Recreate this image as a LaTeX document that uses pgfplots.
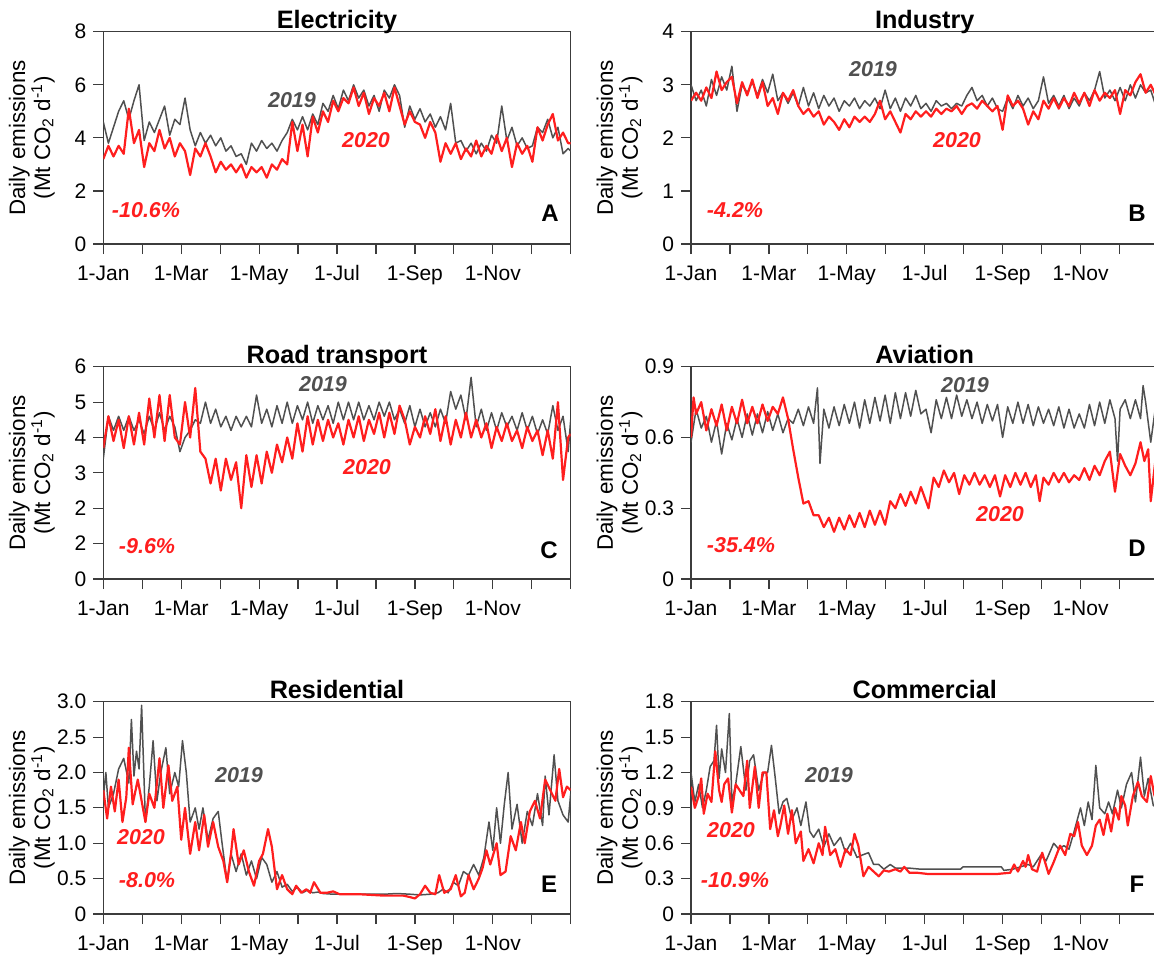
\documentclass[border=0pt]{standalone}
\usepackage{fontspec}
\setmainfont{Liberation Sans}
\usepackage{pgfplots}
\pgfplotsset{compat=1.18}
\definecolor{gray19}{RGB}{80,80,80}
\definecolor{red20}{RGB}{255,30,30}
\definecolor{axcol}{RGB}{60,60,60}
\pgfplotsset{panel/.style={
  scale only axis, width=233.7pt, height=106.15pt,
  xmin=0, xmax=366, ymin=0,
  xtick={0,30.5,61,91.5,122,152.5,183,213.5,244,274.5,305,335.5,366},
  xticklabels={1-Jan,,1-Mar,,1-May,,1-Jul,,1-Sep,,1-Nov,,},
  tick align=outside, major tick length=5pt, tick pos=left,
  axis line style={axcol, line width=0.6pt},
  every tick/.style={axcol, line width=0.6pt},
  tick label style={font=\fontsize{10.5}{12}\selectfont},
  xticklabel style={yshift=-2pt, text height=7.6pt, text depth=2.2pt},
  title style={font=\fontsize{12.6}{14}\selectfont\bfseries, at={(0.5,1)}, anchor=base, yshift=-4.5pt},
  ylabel={Daily emissions\\(Mt CO\textsubscript{2} d\textsuperscript{-1})},
  ylabel style={font=\fontsize{11.2}{12.5}\selectfont, align=center, at={(axis description cs:-0.153,0.5)}, anchor=center},
  every axis plot/.append style={no markers, line join=round},
  anchor=south west,
},
y19/.style={color=gray19, line width=0.75pt},
y20/.style={color=red20, line width=1.1pt}}
\begin{document}
\begin{tikzpicture}
\path[use as bounding box] (0,0) rectangle (577pt,-480pt);
% ---------------- A Electricity
\begin{axis}[panel, at={(51.65pt,-122pt)}, title={Electricity}, ymax=8, ytick={0,2,4,6,8}, yticklabels={0,2,4,6,8}]
\addplot[y19] coordinates {(0,4.6)(4,3.8)(8,4.4)(12,5.0)(16,5.4)(20,4.7)(24,5.4)(28,6.0)(32,3.9)(36,4.6)(40,4.2)(44,4.7)(48,5.2)(52,4.1)(56,4.7)(60,4.5)(64,5.5)(68,4.3)(72,3.7)(76,4.2)(80,3.8)(84,4.1)(88,3.7)(92,4.0)(96,3.5)(100,3.7)(104,3.3)(108,3.4)(112,3.0)(116,3.8)(120,3.5)(124,3.9)(128,3.6)(132,3.8)(136,3.5)(140,3.9)(144,4.2)(148,4.7)(152,4.3)(156,4.8)(160,4.3)(164,4.9)(168,4.5)(172,5.3)(176,5.0)(180,5.6)(184,5.1)(188,5.8)(192,5.4)(196,6.0)(200,5.5)(204,5.8)(208,5.2)(212,5.6)(216,5.0)(220,5.8)(224,5.5)(228,6.0)(232,5.6)(236,4.4)(240,5.2)(244,4.7)(248,5.1)(252,4.6)(256,4.9)(260,4.4)(264,4.8)(268,4.3)(272,5.3)(276,3.8)(280,3.9)(284,3.5)(288,3.8)(292,3.4)(296,3.8)(300,3.5)(304,4.1)(308,3.8)(312,5.2)(316,3.9)(320,4.4)(324,3.7)(328,4.0)(332,3.6)(336,3.7)(340,4.4)(344,4.2)(348,4.7)(352,4.0)(356,4.4)(360,3.4)(364,3.6)(366,3.5)};
\addplot[y20] coordinates {(0,3.2)(4,3.7)(8,3.3)(12,3.7)(16,3.4)(20,5.1)(24,3.8)(28,4.3)(32,2.9)(36,3.8)(40,3.5)(44,4.3)(48,3.6)(52,4.0)(56,3.3)(60,3.8)(64,3.5)(68,2.6)(72,3.6)(76,3.3)(80,3.8)(84,3.3)(88,2.7)(92,3.1)(96,2.8)(100,3.0)(104,2.7)(108,3.0)(112,2.5)(116,2.9)(120,2.7)(124,2.9)(128,2.5)(132,3.0)(136,2.8)(140,3.2)(144,3.0)(148,4.6)(152,3.5)(156,4.5)(160,3.3)(164,4.8)(168,4.2)(172,5.0)(176,4.6)(180,5.4)(184,5.0)(188,5.5)(192,5.3)(196,5.9)(200,5.2)(204,5.7)(208,4.9)(212,5.5)(216,5.2)(220,5.7)(224,5.0)(228,5.9)(232,5.2)(236,4.5)(240,5.0)(244,4.6)(248,4.5)(252,4.0)(256,4.6)(260,4.2)(264,3.1)(268,3.8)(272,3.4)(276,3.8)(280,3.2)(284,3.6)(288,3.3)(292,3.9)(296,3.3)(300,3.7)(304,3.4)(308,4.1)(312,3.5)(316,4.0)(320,2.9)(324,3.8)(328,3.4)(332,3.7)(336,3.1)(340,4.4)(344,3.9)(348,4.5)(352,4.9)(356,3.9)(360,4.2)(364,3.8)(366,3.8)};
\end{axis}
% ---------------- B Industry
\begin{axis}[panel, at={(345.5pt,-122pt)}, title={Industry}, ymax=4, ytick={0,1,2,3,4}, yticklabels={0,1,2,3,4}]
\addplot[y19] coordinates {(0,3.0)(4,2.7)(8,2.9)(12,2.6)(16,3.1)(20,2.8)(24,3.15)(28,2.9)(32,3.35)(36,2.5)(40,3.0)(44,2.85)(48,3.05)(52,2.8)(56,3.1)(60,2.85)(64,3.2)(68,2.7)(72,2.85)(76,2.65)(80,2.85)(84,2.6)(88,2.95)(92,2.6)(96,2.85)(100,2.55)(104,2.8)(108,2.6)(112,2.75)(116,2.5)(120,2.7)(124,2.6)(128,2.75)(132,2.55)(136,2.7)(140,2.6)(144,2.75)(148,2.55)(152,2.9)(156,2.55)(160,2.75)(164,2.5)(168,2.75)(172,2.6)(176,2.8)(180,2.55)(184,2.65)(188,2.5)(192,2.7)(196,2.6)(200,2.65)(204,2.55)(208,2.65)(212,2.6)(216,2.8)(220,2.95)(224,2.7)(228,2.8)(232,2.6)(236,2.75)(240,2.55)(244,2.5)(248,2.75)(252,2.55)(256,2.8)(260,2.6)(264,2.75)(268,2.55)(272,2.7)(276,3.15)(280,2.65)(284,2.8)(288,2.6)(292,2.8)(296,2.55)(300,2.75)(304,2.6)(308,2.85)(312,2.7)(316,2.9)(320,3.25)(324,2.75)(328,2.9)(332,2.7)(336,2.95)(340,2.7)(344,3.0)(348,2.75)(352,3.0)(356,2.85)(360,2.9)(364,2.6)(366,2.65)};
\addplot[y20] coordinates {(0,2.7)(4,2.85)(8,2.7)(12,2.95)(16,2.75)(20,3.25)(24,2.9)(28,3.05)(32,3.15)(36,2.65)(40,3.05)(44,2.8)(48,3.1)(52,2.75)(56,3.05)(60,2.6)(64,2.75)(68,2.45)(72,2.85)(76,2.7)(80,2.9)(84,2.6)(88,2.45)(92,2.55)(96,2.4)(100,2.5)(104,2.25)(108,2.4)(112,2.3)(116,2.15)(120,2.35)(124,2.2)(128,2.4)(132,2.3)(136,2.4)(140,2.3)(144,2.45)(148,2.7)(152,2.35)(156,2.5)(160,2.3)(164,2.1)(168,2.45)(172,2.35)(176,2.5)(180,2.4)(184,2.5)(188,2.4)(192,2.55)(196,2.45)(200,2.55)(204,2.5)(208,2.6)(212,2.45)(216,2.6)(220,2.65)(224,2.55)(228,2.7)(232,2.6)(236,2.5)(240,2.6)(244,2.15)(248,2.8)(252,2.6)(256,2.7)(260,2.55)(264,2.25)(268,2.5)(272,2.35)(276,2.7)(280,2.55)(284,2.75)(288,2.55)(292,2.75)(296,2.6)(300,2.85)(304,2.65)(308,2.85)(312,2.6)(316,2.9)(320,2.7)(324,2.85)(328,2.75)(332,2.9)(336,2.45)(340,2.9)(344,2.8)(348,3.05)(352,3.2)(356,2.85)(360,3.0)(364,2.8)(366,2.75)};
\end{axis}
% ---------------- C Road transport
\begin{axis}[panel, at={(51.65pt,-289.5pt)}, title={Road transport}, ymax=6, ytick={0,1,2,3,4,5,6}, yticklabels={0,2,2,3,4,5,6}]
\addplot[y19] coordinates {(0,3.4)(4,4.6)(8,4.2)(12,4.6)(16,4.2)(20,4.6)(24,4.2)(28,4.5)(32,4.1)(36,4.6)(40,4.2)(44,4.7)(48,4.2)(52,4.6)(56,4.3)(60,3.6)(64,4.0)(68,4.2)(72,4.5)(76,4.4)(80,5.0)(84,4.4)(88,4.8)(92,4.3)(96,4.6)(100,4.2)(104,4.6)(108,4.3)(112,4.6)(116,4.3)(120,5.2)(124,4.4)(128,4.8)(132,4.3)(136,4.9)(140,4.4)(144,5.0)(148,4.4)(152,4.9)(156,4.5)(160,5.0)(164,4.4)(168,4.9)(172,4.5)(176,4.9)(180,4.4)(184,5.0)(188,4.5)(192,5.0)(196,4.5)(200,5.0)(204,4.5)(208,4.9)(212,4.5)(216,5.0)(220,4.6)(224,5.0)(228,4.5)(232,4.8)(236,4.4)(240,4.9)(244,4.3)(248,4.8)(252,4.3)(256,4.7)(260,4.3)(264,4.8)(268,4.4)(272,5.3)(276,4.8)(280,5.2)(284,4.5)(288,5.7)(292,4.3)(296,4.8)(300,4.2)(304,4.7)(308,4.2)(312,4.7)(316,4.3)(320,4.6)(324,4.2)(328,4.7)(332,4.2)(336,4.6)(340,4.1)(344,4.5)(348,4.1)(352,4.9)(356,4.2)(360,4.6)(364,3.6)(366,4.5)};
\addplot[y20] coordinates {(0,3.7)(4,4.6)(8,3.9)(12,4.5)(16,3.7)(20,4.6)(24,3.8)(28,4.7)(32,3.8)(36,5.1)(40,4.0)(44,5.2)(48,3.9)(52,5.2)(56,4.0)(60,3.8)(64,5.0)(68,4.0)(72,5.4)(76,3.6)(80,3.4)(84,2.7)(88,3.4)(92,2.5)(96,3.4)(100,2.8)(104,3.3)(108,2.0)(112,3.5)(116,2.6)(120,3.5)(124,2.7)(128,3.6)(132,3.0)(136,3.8)(140,3.3)(144,4.0)(148,3.4)(152,4.4)(156,3.6)(160,4.6)(164,3.8)(168,4.5)(172,3.9)(176,4.5)(180,4.0)(184,4.4)(188,3.8)(192,4.5)(196,4.0)(200,4.6)(204,3.9)(208,4.5)(212,4.1)(216,4.7)(220,4.0)(224,4.7)(228,4.1)(232,4.9)(236,4.5)(240,3.8)(244,4.3)(248,4.0)(252,4.6)(256,4.1)(260,4.8)(264,3.9)(268,4.6)(272,3.8)(276,4.5)(280,4.0)(284,4.7)(288,4.0)(292,4.5)(296,4.0)(300,4.4)(304,3.7)(308,4.3)(312,3.9)(316,4.4)(320,3.9)(324,4.2)(328,3.7)(332,4.3)(336,3.9)(340,4.2)(344,3.5)(348,4.2)(352,3.4)(356,5.0)(360,2.8)(364,4.0)(366,4.1)};
\end{axis}
% ---------------- D Aviation
\begin{axis}[panel, at={(345.5pt,-289.5pt)}, title={Aviation}, ymax=0.9, ytick={0,0.3,0.6,0.9}, yticklabels={0,0.3,0.6,0.9}]
\addplot[y19] coordinates {(0,0.58)(4,0.72)(8,0.64)(12,0.69)(16,0.58)(20,0.67)(24,0.53)(28,0.66)(32,0.59)(36,0.68)(40,0.6)(44,0.7)(48,0.61)(52,0.7)(56,0.62)(60,0.71)(64,0.63)(68,0.7)(72,0.62)(76,0.68)(80,0.66)(84,0.72)(88,0.65)(92,0.73)(96,0.66)(99,0.81)(101,0.49)(104,0.72)(108,0.64)(112,0.73)(116,0.65)(120,0.74)(124,0.66)(128,0.75)(132,0.64)(136,0.76)(140,0.66)(144,0.77)(148,0.67)(152,0.78)(156,0.66)(160,0.79)(164,0.68)(168,0.79)(172,0.69)(176,0.8)(180,0.7)(184,0.72)(188,0.62)(192,0.76)(196,0.68)(200,0.77)(204,0.68)(208,0.78)(212,0.69)(216,0.76)(220,0.68)(224,0.75)(228,0.66)(232,0.74)(236,0.67)(240,0.74)(244,0.6)(248,0.73)(252,0.66)(256,0.75)(260,0.66)(264,0.74)(268,0.65)(272,0.73)(276,0.66)(280,0.72)(284,0.65)(288,0.73)(292,0.64)(296,0.72)(300,0.64)(304,0.7)(308,0.64)(312,0.74)(316,0.65)(320,0.75)(324,0.66)(328,0.76)(332,0.68)(334,0.5)(336,0.72)(340,0.76)(344,0.68)(348,0.76)(352,0.68)(354,0.82)(356,0.75)(360,0.58)(364,0.74)(366,0.7)};
\addplot[y20] coordinates {(0,0.6)(2,0.77)(4,0.7)(8,0.75)(12,0.63)(16,0.72)(20,0.65)(24,0.74)(28,0.63)(32,0.73)(36,0.66)(40,0.76)(44,0.66)(48,0.73)(52,0.66)(56,0.74)(60,0.67)(64,0.73)(68,0.7)(72,0.77)(76,0.68)(80,0.55)(84,0.43)(88,0.32)(92,0.33)(96,0.27)(100,0.27)(104,0.22)(108,0.26)(112,0.2)(116,0.26)(120,0.21)(124,0.27)(128,0.22)(132,0.28)(136,0.22)(140,0.29)(144,0.23)(148,0.29)(152,0.23)(156,0.33)(160,0.3)(164,0.36)(168,0.31)(172,0.37)(176,0.32)(180,0.39)(184,0.33)(186,0.3)(190,0.43)(194,0.39)(198,0.46)(202,0.41)(206,0.45)(210,0.36)(214,0.44)(218,0.4)(222,0.45)(226,0.4)(230,0.44)(234,0.39)(238,0.44)(242,0.35)(246,0.44)(250,0.39)(254,0.45)(258,0.4)(262,0.45)(266,0.39)(270,0.44)(273,0.33)(276,0.43)(280,0.4)(284,0.45)(288,0.41)(292,0.45)(296,0.41)(300,0.44)(304,0.42)(308,0.47)(312,0.42)(316,0.48)(320,0.44)(324,0.5)(328,0.54)(332,0.37)(336,0.53)(340,0.48)(344,0.44)(348,0.49)(352,0.58)(355,0.5)(358,0.55)(360,0.33)(364,0.52)(366,0.5)};
\end{axis}
% ---------------- E Residential
\begin{axis}[panel, at={(51.65pt,-457pt)}, title={Residential}, ymax=3, ytick={0,0.5,1,1.5,2,2.5,3}, yticklabels={0,0.5,1.0,1.5,2.0,2.5,3.0}]
\addplot[y19] coordinates {(0,1.65)(2,2.0)(4,1.5)(8,1.7)(12,2.05)(16,2.2)(20,1.85)(22,2.75)(24,1.95)(26,2.3)(28,2.05)(30,2.95)(33,1.3)(36,1.8)(39,2.45)(42,1.6)(45,2.0)(49,2.35)(52,1.7)(56,2.0)(59,1.8)(62,2.45)(65,2.0)(68,1.3)(72,1.5)(75,1.2)(78,1.5)(82,1.05)(86,1.35)(90,1.45)(93,1.0)(97,0.45)(100,0.85)(104,0.6)(108,0.85)(112,0.55)(116,0.75)(120,0.5)(124,0.8)(128,0.7)(132,0.45)(136,0.6)(140,0.38)(144,0.42)(148,0.32)(152,0.38)(156,0.3)(160,0.34)(164,0.3)(168,0.31)(172,0.29)(180,0.28)(200,0.28)(220,0.28)(230,0.29)(240,0.28)(248,0.27)(256,0.28)(262,0.3)(266,0.35)(270,0.3)(274,0.45)(278,0.4)(282,0.6)(286,0.55)(290,0.7)(294,0.55)(298,0.8)(302,1.3)(305,0.9)(308,1.5)(311,1.0)(314,1.55)(317,2.0)(320,1.2)(324,1.55)(328,1.0)(332,1.45)(336,1.25)(340,1.7)(344,1.25)(346,1.95)(349,1.4)(353,2.25)(356,1.6)(360,1.4)(364,1.3)(366,1.7)};
\addplot[y20] coordinates {(0,1.75)(3,1.35)(6,1.8)(9,1.45)(12,1.9)(15,1.3)(18,1.65)(20,2.35)(23,1.55)(27,1.9)(30,1.6)(33,1.3)(36,1.7)(40,1.5)(44,2.2)(47,1.5)(51,2.1)(54,1.6)(58,1.8)(61,1.05)(64,1.5)(68,0.85)(72,1.3)(75,0.9)(79,1.4)(82,0.95)(86,1.3)(90,0.95)(94,0.75)(97,0.45)(100,0.85)(102,1.2)(106,0.7)(110,0.9)(114,0.6)(118,0.4)(122,0.75)(125,0.85)(129,1.2)(132,0.95)(136,0.35)(140,0.55)(144,0.35)(148,0.28)(151,0.4)(155,0.3)(159,0.35)(162,0.3)(165,0.45)(170,0.3)(175,0.3)(180,0.32)(185,0.28)(200,0.28)(220,0.26)(235,0.26)(240,0.24)(244,0.22)(248,0.28)(252,0.4)(256,0.3)(260,0.28)(263,0.55)(267,0.3)(272,0.35)(276,0.55)(280,0.25)(283,0.3)(286,0.55)(290,0.35)(294,0.5)(297,0.65)(300,0.9)(303,0.7)(308,1.0)(311,0.55)(315,0.6)(319,1.1)(323,0.9)(327,1.3)(330,1.0)(334,1.45)(338,1.6)(342,1.35)(346,1.9)(350,1.75)(354,1.6)(357,2.05)(360,1.65)(363,1.8)(366,1.75)};
\end{axis}
% ---------------- F Commercial
\begin{axis}[panel, at={(345.5pt,-457pt)}, title={Commercial}, ymax=1.8, ytick={0,0.3,0.6,0.9,1.2,1.5,1.8}, yticklabels={0,0.3,0.6,0.9,1.2,1.5,1.8}]
\addplot[y19] coordinates {(0,1.2)(3,0.95)(6,1.1)(9,0.9)(12,1.05)(15,1.25)(18,1.3)(20,1.6)(22,1.15)(24,1.4)(27,1.2)(30,1.7)(32,0.95)(35,1.1)(39,1.42)(43,1.05)(46,1.3)(49,1.35)(53,1.05)(57,1.2)(60,1.2)(63,1.43)(66,1.15)(69,0.85)(72,0.95)(75,0.98)(79,0.8)(83,0.9)(86,0.75)(90,0.95)(93,0.7)(96,0.65)(100,0.72)(104,0.57)(108,0.68)(112,0.58)(117,0.65)(121,0.52)(125,0.6)(130,0.48)(134,0.5)(139,0.52)(143,0.42)(147,0.42)(151,0.38)(156,0.42)(160,0.39)(170,0.39)(180,0.38)(190,0.38)(200,0.38)(211,0.38)(213,0.4)(230,0.4)(243,0.4)(245,0.37)(252,0.38)(258,0.4)(264,0.42)(268,0.4)(274,0.5)(278,0.45)(284,0.6)(288,0.55)(292,0.58)(296,0.55)(300,0.7)(305,0.9)(308,0.75)(311,0.95)(314,0.8)(317,1.26)(320,0.9)(324,0.85)(327,0.95)(330,0.85)(334,1.05)(337,0.9)(341,1.1)(345,1.2)(348,0.95)(352,1.33)(355,1.0)(358,1.15)(362,0.92)(366,0.9)};
\addplot[y20] coordinates {(0,1.08)(3,0.9)(6,1.0)(8,1.15)(10,0.85)(13,1.02)(16,0.95)(19,1.38)(22,1.05)(24,0.95)(26,1.1)(29,1.15)(32,0.86)(35,1.1)(38,1.05)(41,1.0)(44,1.3)(46,0.9)(50,1.25)(53,0.9)(56,1.2)(59,1.2)(62,0.72)(65,0.88)(68,0.66)(70,0.75)(73,0.92)(76,0.68)(79,0.88)(82,0.6)(86,0.7)(88,0.45)(92,0.55)(96,0.43)(100,0.6)(103,0.5)(105,0.74)(109,0.5)(113,0.55)(117,0.4)(121,0.55)(125,0.5)(128,0.68)(131,0.58)(135,0.32)(139,0.4)(143,0.36)(147,0.32)(151,0.37)(155,0.36)(160,0.38)(164,0.36)(167,0.4)(171,0.35)(177,0.35)(185,0.34)(200,0.34)(220,0.34)(240,0.34)(250,0.35)(253,0.42)(256,0.36)(260,0.45)(262,0.4)(264,0.5)(267,0.38)(271,0.36)(275,0.52)(280,0.34)(284,0.44)(289,0.58)(293,0.5)(297,0.68)(300,0.66)(303,0.78)(306,0.58)(310,0.5)(314,0.58)(317,0.75)(320,0.8)(323,0.67)(326,0.85)(329,0.7)(332,0.9)(335,0.8)(337,1.0)(340,0.92)(342,0.75)(346,1.0)(350,1.12)(353,1.0)(357,0.95)(360,1.17)(363,1.0)(366,1.0)};
\end{axis}
% ---------------- annotations (pixel positions x0.5pt)
\begin{scope}[every node/.style={font=\fontsize{10.75}{12}\selectfont\bfseries\itshape, inner sep=0pt}]
\node[text=gray19] at (146pt,-50pt) {2019};
\node[text=red20] at (183pt,-70pt) {2020};
\node[text=red20] at (73pt,-105pt) {-10.6\%};
\node[text=gray19] at (436.5pt,-34.5pt) {2019};
\node[text=red20] at (478.5pt,-70pt) {2020};
\node[text=red20] at (367.5pt,-105pt) {-4.2\%};
\node[text=gray19] at (161.5pt,-192pt) {2019};
\node[text=red20] at (183.5pt,-233.5pt) {2020};
\node[text=red20] at (73.5pt,-273pt) {-9.6\%};
\node[text=gray19] at (482.5pt,-192.5pt) {2019};
\node[text=red20] at (500pt,-257pt) {2020};
\node[text=red20] at (370.5pt,-272.5pt) {-35.4\%};
\node[text=gray19] at (119.5pt,-387.5pt) {2019};
\node[text=red20] at (70.5pt,-418.5pt) {2020};
\node[text=red20] at (73.5pt,-440pt) {-8.0\%};
\node[text=gray19] at (414.5pt,-387.5pt) {2019};
\node[text=red20] at (365.5pt,-415pt) {2020};
\node[text=red20] at (367.5pt,-440pt) {-10.9\%};
\end{scope}
\begin{scope}[every node/.style={font=\fontsize{12}{14}\selectfont\bfseries, inner sep=0pt}]
\node at (275pt,-106.5pt) {A};
\node at (568.5pt,-106.5pt) {B};
\node at (274.5pt,-275pt) {C};
\node at (568.5pt,-274pt) {D};
\node at (274.5pt,-442pt) {E};
\node at (568.5pt,-442pt) {F};
\end{scope}
\end{tikzpicture}
\end{document}
